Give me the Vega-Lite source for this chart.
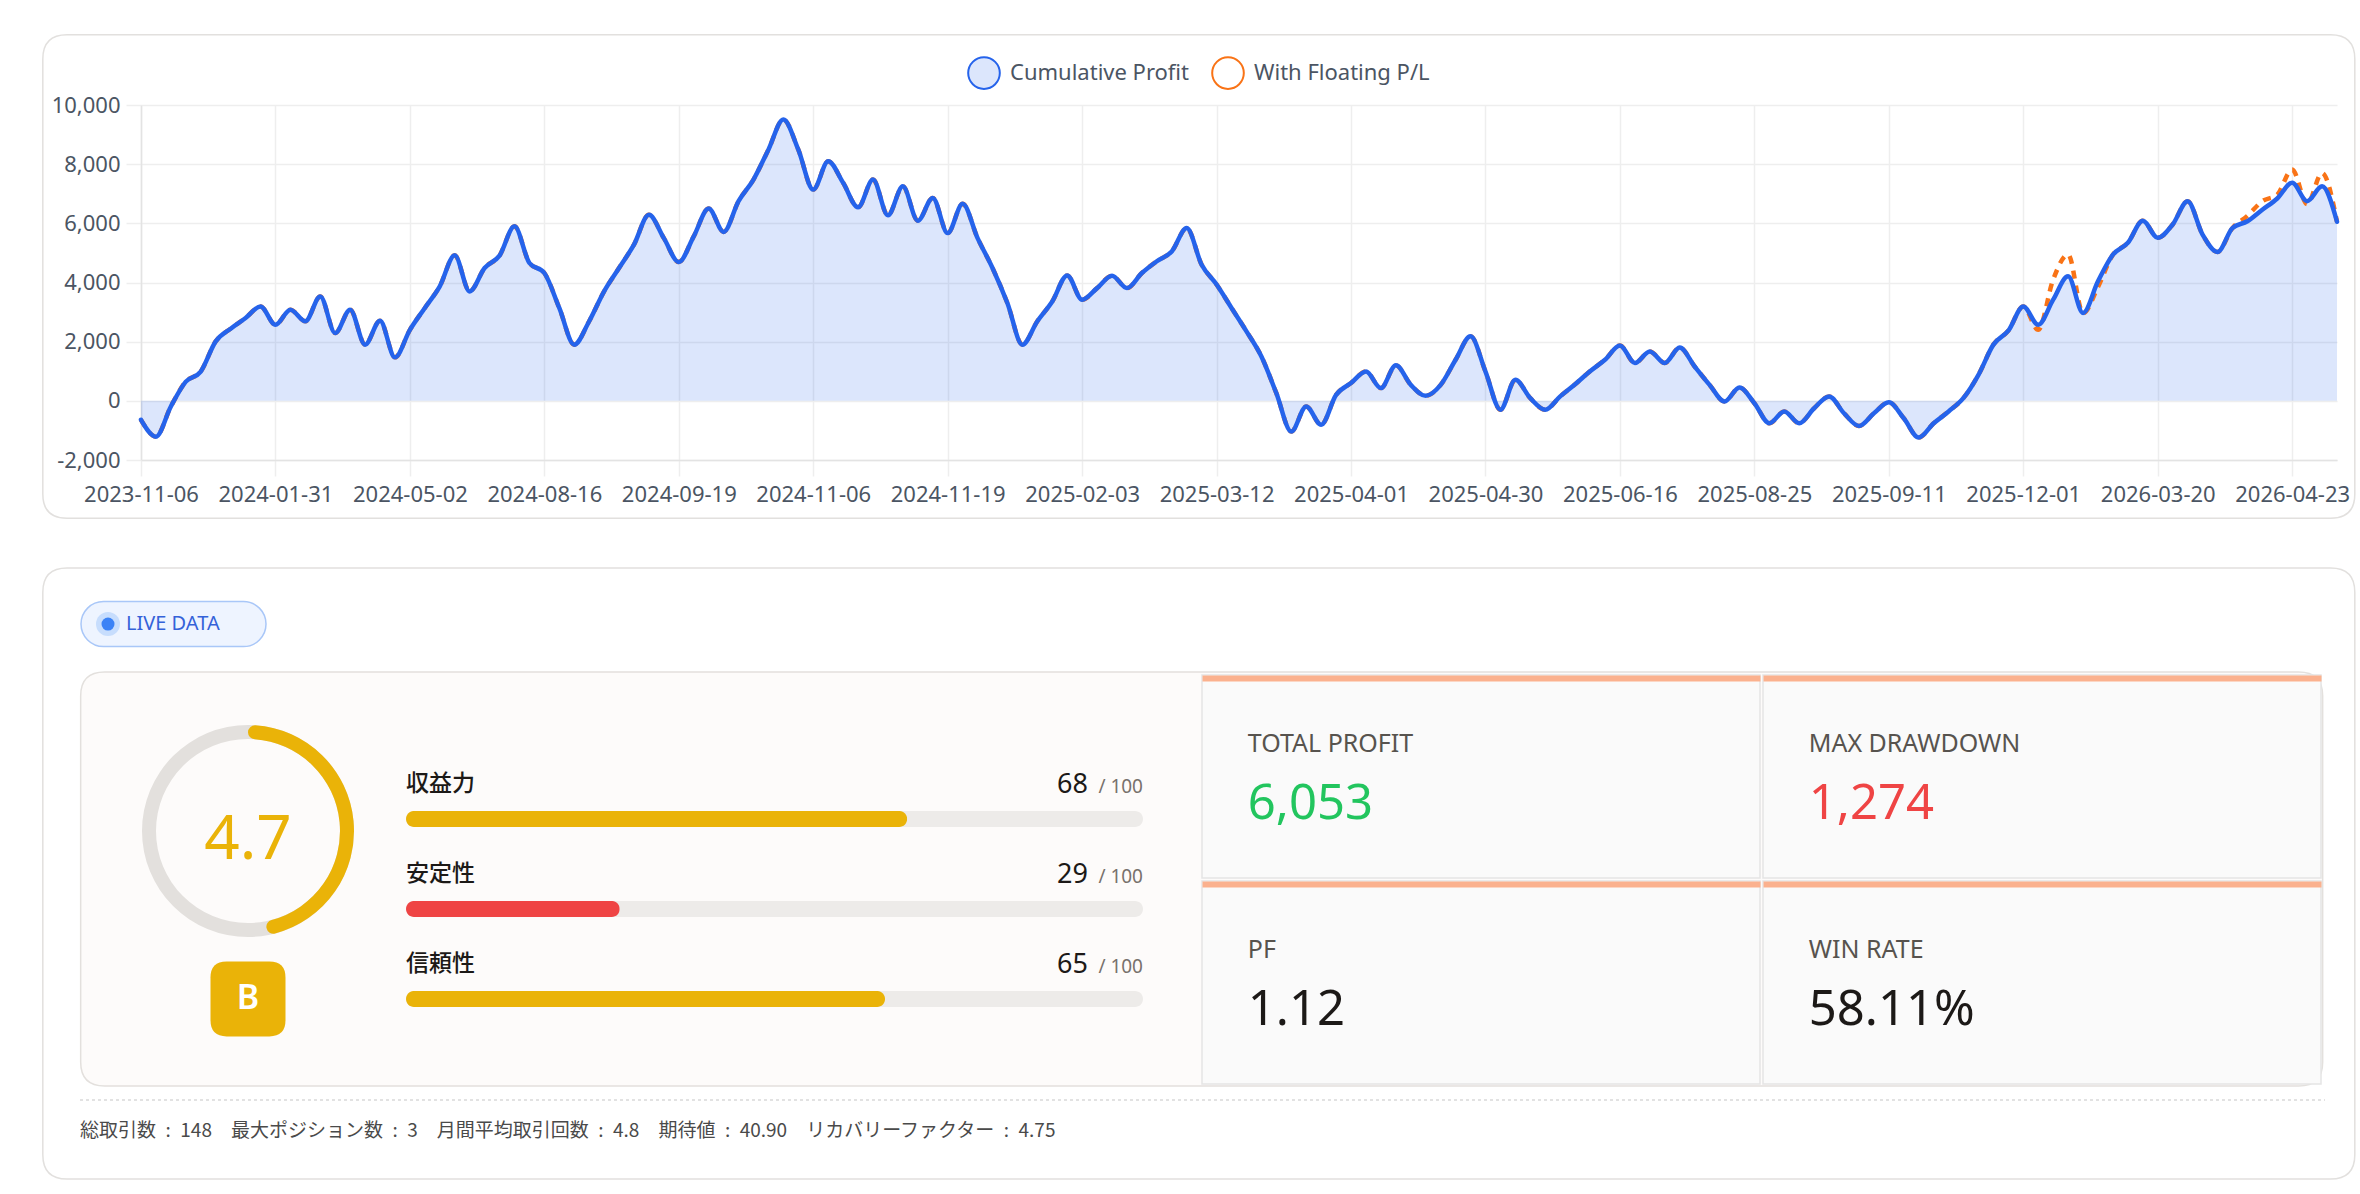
{
"$schema": "https://vega.github.io/schema/vega-lite/v6.json",
"background": "#FFFFFF",
"padding": {"left": 39, "top": 31, "right": 5, "bottom": 16},
"config": {"font": "Noto Sans", "view": {"stroke": null}},
"bounds": "flush",
"spacing": 215,
"vconcat": [
{
"width": 2196, "height": 355,
"resolve": {"scale": {"x": "independent", "y": "independent"}},
"layer": [
{
"data": {"values": [{"card": "frame"}]},
"layer": [
{"mark": {"type": "point", "shape": "M -0.979 -0.2091 L 0.979 -0.2091 Q 1 -0.2091 1 -0.1881 L 1 0.1881 Q 1 0.2091 0.979 0.2091 L -0.979 0.2091 Q -1 0.2091 -1 0.1881 L -1 -0.1881 Q -1 -0.2091 -0.979 -0.2091 Z", "size": 5345344, "filled": true, "fill": "transparent", "stroke": "#E2E0DE", "strokeWidth": 1.5, "opacity": 1},
 "encoding": {"x": {"datum": 0.4817, "type": "quantitative", "scale": {"domain": [0, 1]}, "axis": null}, "y": {"datum": 0.4831, "type": "quantitative", "scale": {"domain": [0, 1], "reverse": true}, "axis": null}}},
{"mark": {"type": "point", "shape": "M -0.979 -0.2643 L 0.979 -0.2643 Q 1 -0.2643 1 -0.2433 L 1 0.2433 Q 1 0.2643 0.979 0.2643 L -0.979 0.2643 Q -1 0.2643 -1 0.2433 L -1 -0.2433 Q -1 -0.2643 -0.979 -0.2643 Z", "size": 5345344, "filled": true, "fill": "transparent", "stroke": "#E2E0DE", "strokeWidth": 1.5, "opacity": 1},
 "encoding": {"x": {"datum": 0.4817, "type": "quantitative"}, "y": {"datum": 2.1648, "type": "quantitative"}}},
{"mark": {"type": "point", "shape": "M -0.9786 -0.1847 L 0.9786 -0.1847 Q 1 -0.1847 1 -0.1633 L 1 0.1633 Q 1 0.1847 0.9786 0.1847 L -0.9786 0.1847 Q -1 0.1847 -1 0.1633 L -1 -0.1633 Q -1 -0.1847 -0.9786 -0.1847 Z", "size": 5026564, "filled": true, "fill": "#FDFBFA", "stroke": "#E3E0DD", "strokeWidth": 1.5, "opacity": 1},
 "encoding": {"x": {"datum": 0.483, "type": "quantitative"}, "y": {"datum": 2.1803, "type": "quantitative"}}}
]
},
{
"data": {"values": [
{"date":"2023-11-06","cum":-640,"flt":-640},{"date":"2023-11-14","cum":-1210,"flt":-1210},{"date":"2023-11-22","cum":-190,"flt":-190},{"date":"2023-12-01","cum":650,"flt":650},{"date":"2023-12-11","cum":990,"flt":990},{"date":"2023-12-20","cum":2010,"flt":2010},{"date":"2024-01-05","cum":2440,"flt":2440},{"date":"2024-01-15","cum":2800,"flt":2800},{"date":"2024-01-23","cum":3190,"flt":3190},{"date":"2024-01-31","cum":2570,"flt":2570},
{"date":"2024-02-09","cum":3080,"flt":3080},{"date":"2024-02-20","cum":2690,"flt":2690},{"date":"2024-02-29","cum":3530,"flt":3530},{"date":"2024-03-11","cum":2290,"flt":2290},{"date":"2024-03-20","cum":3080,"flt":3080},{"date":"2024-03-29","cum":1900,"flt":1900},{"date":"2024-04-10","cum":2710,"flt":2710},{"date":"2024-04-22","cum":1470,"flt":1470},{"date":"2024-05-02","cum":2400,"flt":2400},{"date":"2024-05-14","cum":3140,"flt":3140},
{"date":"2024-05-24","cum":3870,"flt":3870},{"date":"2024-06-05","cum":4920,"flt":4920},{"date":"2024-06-17","cum":3700,"flt":3700},{"date":"2024-06-28","cum":4490,"flt":4490},{"date":"2024-07-10","cum":4910,"flt":4910},{"date":"2024-07-22","cum":5900,"flt":5900},{"date":"2024-08-02","cum":4660,"flt":4660},{"date":"2024-08-16","cum":4320,"flt":4320},{"date":"2024-08-20","cum":3140,"flt":3140},{"date":"2024-08-23","cum":1900,"flt":1900},
{"date":"2024-08-27","cum":2690,"flt":2690},{"date":"2024-08-30","cum":3700,"flt":3700},{"date":"2024-09-04","cum":4490,"flt":4490},{"date":"2024-09-09","cum":5280,"flt":5280},{"date":"2024-09-12","cum":6290,"flt":6290},{"date":"2024-09-16","cum":5500,"flt":5500},{"date":"2024-09-19","cum":4690,"flt":4690},{"date":"2024-09-24","cum":5560,"flt":5560},{"date":"2024-09-30","cum":6500,"flt":6500},{"date":"2024-10-04","cum":5710,"flt":5710},
{"date":"2024-10-10","cum":6750,"flt":6750},{"date":"2024-10-16","cum":7480,"flt":7480},{"date":"2024-10-22","cum":8490,"flt":8490},{"date":"2024-10-28","cum":9510,"flt":9510},{"date":"2024-11-01","cum":8490,"flt":8490},{"date":"2024-11-06","cum":7140,"flt":7140},{"date":"2024-11-07","cum":8100,"flt":8100},{"date":"2024-11-08","cum":7370,"flt":7370},{"date":"2024-11-11","cum":6540,"flt":6540},{"date":"2024-11-12","cum":7480,"flt":7480},
{"date":"2024-11-13","cum":6270,"flt":6270},{"date":"2024-11-14","cum":7250,"flt":7250},{"date":"2024-11-15","cum":6090,"flt":6090},{"date":"2024-11-18","cum":6860,"flt":6860},{"date":"2024-11-19","cum":5670,"flt":5670},{"date":"2024-11-26","cum":6660,"flt":6660},{"date":"2024-12-04","cum":5500,"flt":5500},{"date":"2024-12-12","cum":4490,"flt":4490},{"date":"2024-12-19","cum":3300,"flt":3300},{"date":"2024-12-27","cum":1900,"flt":1900},
{"date":"2025-01-08","cum":2690,"flt":2690},{"date":"2025-01-16","cum":3360,"flt":3360},{"date":"2025-01-24","cum":4240,"flt":4240},{"date":"2025-02-03","cum":3420,"flt":3420},{"date":"2025-02-07","cum":3810,"flt":3810},{"date":"2025-02-12","cum":4230,"flt":4230},{"date":"2025-02-17","cum":3810,"flt":3810},{"date":"2025-02-21","cum":4320,"flt":4320},{"date":"2025-02-26","cum":4720,"flt":4720},{"date":"2025-03-03","cum":5050,"flt":5050},
{"date":"2025-03-06","cum":5840,"flt":5840},{"date":"2025-03-10","cum":4600,"flt":4600},{"date":"2025-03-12","cum":3930,"flt":3930},{"date":"2025-03-14","cum":3140,"flt":3140},{"date":"2025-03-17","cum":2350,"flt":2350},{"date":"2025-03-19","cum":1500,"flt":1500},{"date":"2025-03-21","cum":260,"flt":260},{"date":"2025-03-24","cum":-1040,"flt":-1040},{"date":"2025-03-26","cum":-190,"flt":-190},{"date":"2025-03-28","cum":-810,"flt":-810},
{"date":"2025-03-31","cum":200,"flt":200},{"date":"2025-04-01","cum":600,"flt":600},{"date":"2025-04-04","cum":990,"flt":990},{"date":"2025-04-08","cum":430,"flt":430},{"date":"2025-04-10","cum":1200,"flt":1200},{"date":"2025-04-14","cum":540,"flt":540},{"date":"2025-04-17","cum":170,"flt":170},{"date":"2025-04-21","cum":540,"flt":540},{"date":"2025-04-24","cum":1390,"flt":1390},{"date":"2025-04-28","cum":2180,"flt":2180},
{"date":"2025-04-30","cum":990,"flt":990},{"date":"2025-05-06","cum":-300,"flt":-300},{"date":"2025-05-12","cum":710,"flt":710},{"date":"2025-05-16","cum":90,"flt":90},{"date":"2025-05-22","cum":-300,"flt":-300},{"date":"2025-05-28","cum":150,"flt":150},{"date":"2025-06-02","cum":560,"flt":560},{"date":"2025-06-06","cum":1000,"flt":1000},{"date":"2025-06-11","cum":1390,"flt":1390},{"date":"2025-06-16","cum":1870,"flt":1870},
{"date":"2025-06-25","cum":1280,"flt":1280},{"date":"2025-07-03","cum":1670,"flt":1670},{"date":"2025-07-11","cum":1280,"flt":1280},{"date":"2025-07-21","cum":1800,"flt":1800},{"date":"2025-07-29","cum":1160,"flt":1160},{"date":"2025-08-06","cum":540,"flt":540},{"date":"2025-08-13","cum":-20,"flt":-20},{"date":"2025-08-19","cum":450,"flt":450},{"date":"2025-08-25","cum":-80,"flt":-80},{"date":"2025-08-27","cum":-760,"flt":-760},
{"date":"2025-08-29","cum":-360,"flt":-360},{"date":"2025-09-01","cum":-760,"flt":-760},{"date":"2025-09-03","cum":-250,"flt":-250},{"date":"2025-09-04","cum":150,"flt":150},{"date":"2025-09-05","cum":-420,"flt":-420},{"date":"2025-09-08","cum":-850,"flt":-850},{"date":"2025-09-09","cum":-420,"flt":-420},{"date":"2025-09-11","cum":-50,"flt":-50},{"date":"2025-09-22","cum":-590,"flt":-590},{"date":"2025-10-01","cum":-1240,"flt":-1240},
{"date":"2025-10-10","cum":-760,"flt":-760},{"date":"2025-10-20","cum":-360,"flt":-360},{"date":"2025-10-29","cum":100,"flt":100},{"date":"2025-11-06","cum":880,"flt":880},{"date":"2025-11-14","cum":1900,"flt":1900},{"date":"2025-11-21","cum":2370,"flt":2370},{"date":"2025-12-01","cum":3190,"flt":3190},{"date":"2025-12-15","cum":2570,"flt":2400},{"date":"2026-01-05","cum":3420,"flt":4100},{"date":"2026-01-16","cum":4210,"flt":4950},
{"date":"2026-01-27","cum":2970,"flt":2960},{"date":"2026-02-06","cum":4040,"flt":3850},{"date":"2026-02-18","cum":4940,"flt":4940},{"date":"2026-02-27","cum":5340,"flt":5340},{"date":"2026-03-10","cum":6090,"flt":6090},{"date":"2026-03-20","cum":5510,"flt":5510},{"date":"2026-03-24","cum":5960,"flt":5960},{"date":"2026-03-27","cum":6750,"flt":6750},{"date":"2026-03-31","cum":5620,"flt":5620},{"date":"2026-04-03","cum":5030,"flt":5030},
{"date":"2026-04-08","cum":5840,"flt":5840},{"date":"2026-04-13","cum":6070,"flt":6250},{"date":"2026-04-16","cum":6460,"flt":6750},{"date":"2026-04-20","cum":6840,"flt":6970},{"date":"2026-04-23","cum":7370,"flt":7820},{"date":"2026-04-24","cum":6750,"flt":6650},{"date":"2026-04-27","cum":7250,"flt":7700},{"date":"2026-04-28","cum":6053,"flt":6053}
]},
"encoding": {
 "x": {"field": "date", "type": "ordinal", "sort": null, "scale": {"type": "point", "padding": 0},
  "axis": {"orient": "bottom", "title": null, "values": ["2023-11-06","2024-01-31","2024-05-02","2024-08-16","2024-09-19","2024-11-06","2024-11-19","2025-02-03","2025-03-12","2025-04-01","2025-04-30","2025-06-16","2025-08-25","2025-09-11","2025-12-01","2026-03-20","2026-04-23"],
   "labelAngle": 0, "labelOverlap": false, "grid": true, "gridColor": "#EEEEEE", "gridWidth": 1.5, "tickColor": "#EEEEEE", "tickWidth": 1.5, "tickSize": 16, "domainColor": "#E3E3E3", "domainWidth": 1.5, "labelFontSize": 22, "labelColor": "#4B5563", "labelPadding": 8}}
},
"layer": [
 {"mark": {"type": "area", "interpolate": "monotone", "color": "#2563EB", "opacity": 0.16},
  "encoding": {"y": {"field": "cum", "type": "quantitative", "scale": {"domain": [-2000, 10000], "nice": false, "zero": false},
    "axis": {"orient": "left", "title": null, "values": [-2000, 0, 2000, 4000, 6000, 8000, 10000], "labelExpr": "replace(format(datum.value, ','), '\u2212', '-')", "labelFlush": false, "grid": true, "gridColor": "#EEEEEE", "gridWidth": 1.5, "tickColor": "#EEEEEE", "tickWidth": 1.5, "tickSize": 15, "domainColor": "#E3E3E3", "domainWidth": 1.5, "labelFontSize": 22, "labelColor": "#4B5563", "labelPadding": 6}},
   "y2": {"datum": 0}}},
 {"mark": {"type": "line", "interpolate": "monotone", "strokeWidth": 4.5, "strokeDash": [8, 7]},
  "encoding": {"y": {"field": "flt", "type": "quantitative"},
   "color": {"datum": "With Floating P/L", "type": "nominal", "scale": {"domain": ["Cumulative Profit", "With Floating P/L"], "range": ["#2563EB", "#F97316"]},
    "legend": {"orient": "none", "legendX": 826, "legendY": -49, "direction": "horizontal", "title": null, "symbolType": "circle", "symbolSize": 1000, "symbolStrokeWidth": 2, "labelFontSize": 22, "labelLimit": 500, "labelColor": "#4B5563", "labelOffset": 9, "columnPadding": 18, "padding": 0,
     "encode": {"symbols": {"update": {"fill": {"signal": "datum.value === 'Cumulative Profit' ? '#DCE6FC' : '#FFFFFF'"}, "fillOpacity": {"value": 1}, "opacity": {"value": 1}, "strokeDash": {"value": []}}}}}}}},
 {"mark": {"type": "line", "interpolate": "monotone", "strokeWidth": 4.5, "strokeCap": "round", "strokeJoin": "round"},
  "encoding": {"y": {"field": "cum", "type": "quantitative"}, "color": {"datum": "Cumulative Profit", "type": "nominal"}}}
]
}
]
},
{
"bounds": "flush",
"spacing": 59,
"hconcat": [
{
"width": 206, "height": 411,
"data": {"values": [{"score": 4.7, "grade": "B", "badge": "LIVE DATA", "summary": "総取引数\u2002:\u2002148\u2003最大ポジション数\u2002:\u20023\u2003月間平均取引回数\u2002:\u20024.8\u2003期待値\u2002:\u200240.90\u2003リカバリーファクター\u2002:\u20024.75"}]},
"layer": [
 {"mark": {"type": "point", "shape": "M -0.7568 -0.2432 L 0.7568 -0.2432 A 0.2432 0.2432 0 0 1 0.7568 0.2432 L -0.7568 0.2432 A 0.2432 0.2432 0 0 1 -0.7568 -0.2432 Z", "size": 34225, "filled": true, "fill": "#EEF4FF", "stroke": "#A9C7F8", "strokeWidth": 1.5, "opacity": 1},
  "encoding": {"x": {"datum": 0.1578, "type": "quantitative", "scale": {"domain": [0, 1]}, "axis": null}, "y": {"datum": -0.124, "type": "quantitative", "scale": {"domain": [0, 1], "reverse": true}, "axis": null}}},
 {"mark": {"type": "point", "shape": "circle", "size": 576, "filled": true, "color": "#C7DDFD", "opacity": 1},
  "encoding": {"x": {"datum": -0.1602, "type": "quantitative"}, "y": {"datum": -0.124, "type": "quantitative"}}},
 {"mark": {"type": "point", "shape": "circle", "size": 169, "filled": true, "color": "#3B82F6", "opacity": 1},
  "encoding": {"x": {"datum": -0.1602, "type": "quantitative"}, "y": {"datum": -0.124, "type": "quantitative"}}},
 {"mark": {"type": "text", "align": "left", "baseline": "middle", "fontSize": 20, "color": "#3462D9"},
  "encoding": {"text": {"field": "badge"}, "x": {"datum": -0.0728, "type": "quantitative"}, "y": {"datum": -0.124, "type": "quantitative"}}},
 {"mark": {"type": "arc", "theta": 0, "theta2": 6.2832, "radius": 106, "radius2": 92, "color": "#E3E0DD"},
  "encoding": {"x": {"datum": 0.5194, "type": "quantitative"}, "y": {"datum": 0.3796, "type": "quantitative"}}},
 {"mark": {"type": "arc", "radius": 106, "radius2": 92, "cornerRadius": 7, "color": "#EAB308"},
  "encoding": {"theta": {"field": "score", "type": "quantitative", "scale": {"domain": [0, 10], "range": [0, 6.2832]}}, "x": {"datum": 0.5194, "type": "quantitative"}, "y": {"datum": 0.3796, "type": "quantitative"}}},
 {"mark": {"type": "text", "align": "center", "baseline": "alphabetic", "dy": 28, "fontSize": 62, "color": "#EAB308"},
  "encoding": {"text": {"field": "score", "type": "quantitative", "format": ".1f"}, "x": {"datum": 0.5194, "type": "quantitative"}, "y": {"datum": 0.3796, "type": "quantitative"}}},
 {"mark": {"type": "point", "shape": "M -0.57 -1 L 0.57 -1 Q 1 -1 1 -0.57 L 1 0.57 Q 1 1 0.57 1 L -0.57 1 Q -1 1 -1 0.57 L -1 -0.57 Q -1 -1 -0.57 -1 Z", "size": 5625, "filled": true, "color": "#EAB308", "opacity": 1},
  "encoding": {"x": {"datum": 0.5194, "type": "quantitative"}, "y": {"datum": 0.7883, "type": "quantitative"}}},
 {"mark": {"type": "text", "align": "center", "baseline": "middle", "fontSize": 34, "fontWeight": 600, "color": "#FFFFFF"},
  "encoding": {"text": {"field": "grade"}, "x": {"datum": 0.5194, "type": "quantitative"}, "y": {"datum": 0.7883, "type": "quantitative"}}},
 {"mark": {"type": "rule", "stroke": "#D9D9D9", "strokeWidth": 1.5, "strokeDash": [3, 3]},
  "encoding": {"x": {"datum": -0.2961, "type": "quantitative"}, "x2": {"datum": 10.602}, "y": {"datum": 1.034, "type": "quantitative"}}},
 {"mark": {"type": "text", "align": "left", "baseline": "middle", "font": "Noto Sans CJK JP", "fontSize": 19, "color": "#4A4A4A"},
  "encoding": {"text": {"field": "summary"}, "x": {"datum": -0.2961, "type": "quantitative"}, "y": {"datum": 1.1095, "type": "quantitative"}}}
]
},
{
"width": 737, "height": 411,
"data": {"values": [{"metric": "収益力", "score": 68}, {"metric": "安定性", "score": 29}, {"metric": "信頼性", "score": 65}]},
"encoding": {"y": {"field": "metric", "type": "nominal", "sort": null, "axis": null, "scale": {"paddingInner": 0, "paddingOuter": 0.7833, "align": 0.702}}},
"layer": [
 {"mark": {"type": "bar", "size": 16, "cornerRadius": 8, "color": "#EDEBE9"},
  "encoding": {"x": {"datum": 0, "type": "quantitative", "scale": {"domain": [0, 100], "nice": false}, "axis": null}, "x2": {"datum": 100}}},
 {"mark": {"type": "bar", "size": 16, "cornerRadius": 8},
  "encoding": {"x": {"field": "score", "type": "quantitative"}, "color": {"condition": {"test": "datum.score < 40", "value": "#EF4444"}, "value": "#EAB308"}}},
 {"mark": {"type": "text", "align": "left", "baseline": "alphabetic", "dy": -28, "font": "Noto Sans CJK JP", "fontSize": 23, "fontWeight": 500, "color": "#1C1917"},
  "encoding": {"text": {"field": "metric"}, "x": {"datum": 0, "type": "quantitative"}}},
 {"mark": {"type": "text", "align": "right", "baseline": "alphabetic", "dx": -55, "dy": -26, "fontSize": 27, "color": "#1C1917"},
  "encoding": {"text": {"field": "score", "type": "quantitative"}, "x": {"datum": 100, "type": "quantitative"}}},
 {"mark": {"type": "text", "align": "right", "baseline": "alphabetic", "dy": -26, "fontSize": 19, "color": "#78716C"},
  "encoding": {"text": {"value": "/ 100"}, "x": {"datum": 100, "type": "quantitative"}}}
]
},
{
"bounds": "flush",
"columns": 2,
"spacing": 3,
"concat": [
{"width": 558, "height": 203, "view": {"fill": "#FAFAFA", "stroke": "#E5E5E5", "strokeWidth": 1.5},
 "data": {"values": [{"label": "TOTAL PROFIT", "value": "6,053"}]},
 "layer": [
  {"mark": {"type": "text", "align": "left", "baseline": "alphabetic", "fontSize": 25, "color": "#57534E"},
   "encoding": {"text": {"field": "label"}, "x": {"datum": 0.082, "type": "quantitative", "scale": {"domain": [0, 1]}, "axis": {"orient": "top", "domainColor": "#FBB18E", "domainWidth": 6, "offset": -3, "labels": false, "ticks": false, "grid": false, "title": null}}, "y": {"datum": 0.377, "type": "quantitative", "scale": {"domain": [0, 1], "reverse": true}, "axis": null}}},
  {"mark": {"type": "text", "align": "left", "baseline": "alphabetic", "fontSize": 49, "color": "#22C55E"},
   "encoding": {"text": {"field": "value"}, "x": {"datum": 0.082, "type": "quantitative"}, "y": {"datum": 0.711, "type": "quantitative"}}}
 ]},
{"width": 558, "height": 203, "view": {"fill": "#FAFAFA", "stroke": "#E5E5E5", "strokeWidth": 1.5},
 "data": {"values": [{"label": "MAX DRAWDOWN", "value": "1,274"}]},
 "layer": [
  {"mark": {"type": "text", "align": "left", "baseline": "alphabetic", "fontSize": 25, "color": "#57534E"},
   "encoding": {"text": {"field": "label"}, "x": {"datum": 0.082, "type": "quantitative", "scale": {"domain": [0, 1]}, "axis": {"orient": "top", "domainColor": "#FBB18E", "domainWidth": 6, "offset": -3, "labels": false, "ticks": false, "grid": false, "title": null}}, "y": {"datum": 0.377, "type": "quantitative", "scale": {"domain": [0, 1], "reverse": true}, "axis": null}}},
  {"mark": {"type": "text", "align": "left", "baseline": "alphabetic", "fontSize": 49, "color": "#EF4444"},
   "encoding": {"text": {"field": "value"}, "x": {"datum": 0.082, "type": "quantitative"}, "y": {"datum": 0.711, "type": "quantitative"}}}
 ]},
{"width": 558, "height": 203, "view": {"fill": "#FAFAFA", "stroke": "#E5E5E5", "strokeWidth": 1.5},
 "data": {"values": [{"label": "PF", "value": "1.12"}]},
 "layer": [
  {"mark": {"type": "text", "align": "left", "baseline": "alphabetic", "fontSize": 25, "color": "#57534E"},
   "encoding": {"text": {"field": "label"}, "x": {"datum": 0.082, "type": "quantitative", "scale": {"domain": [0, 1]}, "axis": {"orient": "top", "domainColor": "#FBB18E", "domainWidth": 6, "offset": -3, "labels": false, "ticks": false, "grid": false, "title": null}}, "y": {"datum": 0.377, "type": "quantitative", "scale": {"domain": [0, 1], "reverse": true}, "axis": null}}},
  {"mark": {"type": "text", "align": "left", "baseline": "alphabetic", "fontSize": 49, "color": "#1C1917"},
   "encoding": {"text": {"field": "value"}, "x": {"datum": 0.082, "type": "quantitative"}, "y": {"datum": 0.711, "type": "quantitative"}}}
 ]},
{"width": 558, "height": 203, "view": {"fill": "#FAFAFA", "stroke": "#E5E5E5", "strokeWidth": 1.5},
 "data": {"values": [{"label": "WIN RATE", "value": "58.11%"}]},
 "layer": [
  {"mark": {"type": "text", "align": "left", "baseline": "alphabetic", "fontSize": 25, "color": "#57534E"},
   "encoding": {"text": {"field": "label"}, "x": {"datum": 0.082, "type": "quantitative", "scale": {"domain": [0, 1]}, "axis": {"orient": "top", "domainColor": "#FBB18E", "domainWidth": 6, "offset": -3, "labels": false, "ticks": false, "grid": false, "title": null}}, "y": {"datum": 0.377, "type": "quantitative", "scale": {"domain": [0, 1], "reverse": true}, "axis": null}}},
  {"mark": {"type": "text", "align": "left", "baseline": "alphabetic", "fontSize": 49, "color": "#1C1917"},
   "encoding": {"text": {"field": "value"}, "x": {"datum": 0.082, "type": "quantitative"}, "y": {"datum": 0.711, "type": "quantitative"}}}
 ]}
]
}
]
}
]
}
